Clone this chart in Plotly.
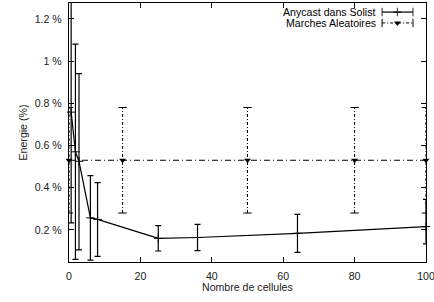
import plotly.graph_objects as go

# ---- data ----
anycast_x = [0.6, 1.8, 2.8, 6, 8, 25, 36, 64, 100]
anycast_y = [0.758, 0.57, 0.525, 0.257, 0.25, 0.16, 0.164, 0.184, 0.216]
anycast_err_plus = [0.525, 0.51, 0.415, 0.2, 0.174, 0.06, 0.062, 0.09, 0.129]
anycast_err_minus = [0.525, 0.51, 0.42, 0.2, 0.175, 0.06, 0.062, 0.09, 0.082]

marches_x = [0, 15, 50, 80, 100]
marches_y = [0.53, 0.53, 0.53, 0.53, 0.53]
marches_err = [0.25, 0.25, 0.25, 0.25, 0.25]

x_ticks = [0, 20, 40, 60, 80, 100]
y_ticks = [0.2, 0.4, 0.6, 0.8, 1.0, 1.2]
y_ticklabels = ["0.2 %", "0.4 %", "0.6 %", "0.8 %", "1 %", "1.2 %"]

legend_names = ["Anycast dans Solist", "Marches Aleatoires"]

FONT = "Liberation Sans, Arial, sans-serif"
FS = 10.6

fig = go.Figure()

# Anycast: line with solid error bars and + markers
fig.add_trace(go.Scatter(
    x=anycast_x, y=anycast_y, mode="lines+markers",
    line=dict(color="black", width=1.2),
    marker=dict(symbol="cross-thin", size=6, line=dict(color="black", width=1)),
    error_y=dict(type="data", symmetric=False, array=anycast_err_plus,
                 arrayminus=anycast_err_minus, color="black", thickness=1.2, width=3),
    cliponaxis=False, showlegend=False,
))

# Marches: dash-dot error bars drawn as segments with caps
ex, ey = [], []
for xi, yi, ei in zip(marches_x, marches_y, marches_err):
    ex += [xi, xi, None]
    ey += [yi - ei, yi + ei, None]
fig.add_trace(go.Scatter(
    x=ex, y=ey, mode="lines+markers",
    line=dict(color="black", width=1, dash="3px,2px,1px,2px"),
    marker=dict(symbol="line-ew", size=6, line=dict(color="black", width=1)),
    cliponaxis=True, showlegend=False,
))
fig.add_trace(go.Scatter(
    x=marches_x, y=marches_y, mode="lines+markers",
    line=dict(color="black", width=1, dash="6px,3px,1px,3px"),
    marker=dict(symbol="triangle-down", size=6, color="black"),
    cliponaxis=False, showlegend=False,
))

# ---- legend samples (overlay axes 0..1) ----
lx0, lx1, lxm = 0.877, 0.9635, 0.92
ly = [0.965, 0.923]
fig.add_trace(go.Scatter(
    x=[lx0, lx1], y=[ly[0], ly[0]], mode="lines", xaxis="x2", yaxis="y2",
    line=dict(color="black", width=1.2), showlegend=False, hoverinfo="skip"))
fig.add_trace(go.Scatter(
    x=[lx0, lxm, lx1], y=[ly[0]] * 3, mode="markers", xaxis="x2", yaxis="y2",
    marker=dict(symbol=["line-ns", "cross-thin", "line-ns"], size=[6, 6, 6],
                line=dict(color="black", width=1.2)),
    showlegend=False, hoverinfo="skip"))
fig.add_trace(go.Scatter(
    x=[lx0, lx1], y=[ly[1], ly[1]], mode="lines", xaxis="x2", yaxis="y2",
    line=dict(color="black", width=1, dash="3px,2px,1px,2px"), showlegend=False, hoverinfo="skip"))
fig.add_trace(go.Scatter(
    x=[lx0, lx1], y=[ly[1]] * 2, mode="markers", xaxis="x2", yaxis="y2",
    marker=dict(symbol="line-ns", size=6, line=dict(color="black", width=1)),
    showlegend=False, hoverinfo="skip"))
fig.add_trace(go.Scatter(
    x=[lxm], y=[ly[1]], mode="markers", xaxis="x2", yaxis="y2",
    marker=dict(symbol="triangle-down", size=6, color="black"),
    showlegend=False, hoverinfo="skip"))

for name, yy in zip(legend_names, ly):
    fig.add_annotation(x=0.865, y=yy, xref="paper", yref="paper", text=name,
                       showarrow=False, xanchor="right", yanchor="middle",
                       font=dict(family=FONT, size=FS, color="black"))

# axis titles
fig.add_annotation(x=0.5, y=-0.0, xref="paper", yref="paper", yshift=-25,
                   text="Nombre de cellules", showarrow=False,
                   xanchor="center", yanchor="middle",
                   font=dict(family=FONT, size=FS, color="#222"))
fig.add_annotation(x=0.0, y=0.5, xref="paper", yref="paper", xshift=-47,
                   text="Energie (%)", showarrow=False, textangle=-90,
                   xanchor="center", yanchor="middle",
                   font=dict(family=FONT, size=FS, color="#222"))

axis_common = dict(
    showgrid=False, zeroline=False, showline=True, linecolor="black", linewidth=1.2,
    mirror="ticks", ticks="inside", ticklen=5, tickcolor="black", tickwidth=1,
    tickfont=dict(family=FONT, size=FS, color="#222"), automargin=False,
    ticklabeloverflow="allow",
)

fig.update_layout(
    width=434, height=302,
    margin=dict(l=69, r=8, t=3, b=40),
    paper_bgcolor="white", plot_bgcolor="white",
    xaxis=dict(range=[0, 100], tickvals=x_ticks, ticklabelstandoff=4, **axis_common),
    yaxis=dict(range=[0.048, 1.275], tickvals=y_ticks, ticktext=y_ticklabels,
               ticklabelstandoff=4, **axis_common),
    xaxis2=dict(range=[0, 1], overlaying="x", visible=False),
    yaxis2=dict(range=[0, 1], overlaying="y", visible=False),
)

post = ("document.body.style.margin='0';"
        "var gd=document.getElementById('{plot_id}');"
        "gd.style.position='fixed';gd.style.left='0px';gd.style.top='0px';")
fig.write_html("out.html", post_script=post, config={"displayModeBar": False})
